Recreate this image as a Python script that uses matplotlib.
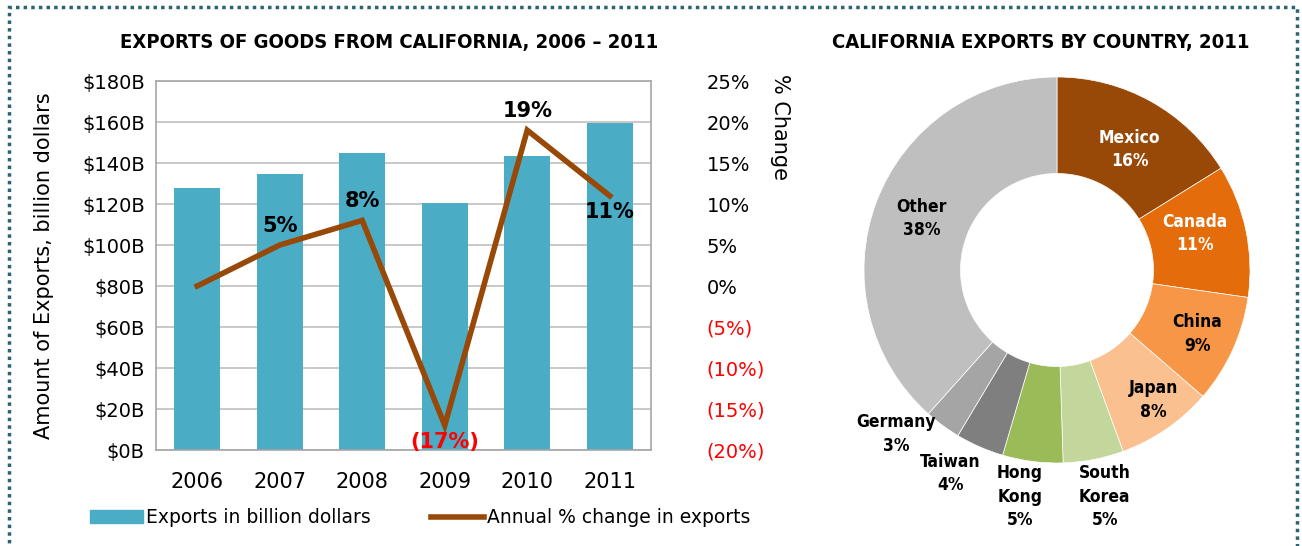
import numpy as np
import matplotlib
matplotlib.use('Agg')
from matplotlib import pyplot as plt
from matplotlib.patches import Rectangle, Patch
from matplotlib.lines import Line2D

# Data for the bar / line chart
years = ['2006', '2007', '2008', '2009', '2010', '2011']
exports_billion = [128, 134.5, 145, 120.5, 143.5, 159.5]
pct_change = [0, 5, 8, -17, 19, 11]
pct_labels = ['', '5%', '8%', '(17%)', '19%', '11%']

# Data for the donut chart
countries = ['Mexico', 'Canada', 'China', 'Japan', 'South\nKorea', 'Hong\nKong', 'Taiwan', 'Germany', 'Other']
shares = [16, 11, 9, 8, 5, 5, 4, 3, 38]

bar_color = '#4BACC6'
line_color = '#984807'
pie_colors = ['#984807', '#E46C0A', '#F79646', '#FAC090', '#C3D69B',
              '#9BBB59', '#7F7F7F', '#A5A5A5', '#BFBFBF']
label_colors = ['white', 'white', 'black', 'black', 'black', 'black', 'black', 'black', 'black']

plt.rcParams['font.family'] = ['DejaVu Sans']

fig = plt.figure(figsize=(13.02, 5.46), dpi=100)

# Dotted border around the whole graphic
fig.patches.append(Rectangle((0.007, -0.02), 0.989, 1.008, transform=fig.transFigure,
                             fill=False, edgecolor='#2A6373', linestyle=(0, (1, 1.2)),
                             linewidth=2.5))

# ---- Left: exports bar chart with % change line ----
ax = fig.add_axes([0.1198, 0.1758, 0.3802, 0.6758])
x = np.arange(len(years))
ax.bar(x, exports_billion, width=0.56, color=bar_color, zorder=2)
ax.set_xlim(-0.5, len(years) - 0.5)
ax.set_ylim(0, 180)
ax.set_yticks(np.arange(0, 181, 20))
ax.set_yticklabels([f'${v}B' for v in range(0, 181, 20)], fontsize=14)
ax.set_xticks(x)
ax.set_xticklabels(years, fontsize=15)
ax.tick_params(length=0, pad=8)
ax.tick_params(axis='x', pad=16)
ax.grid(axis='y', color='#BFBFBF', linewidth=1.2, zorder=0)
for s in ax.spines.values():
    s.set_color('#A6A6A6')
    s.set_linewidth(1.2)
ax.set_ylabel('Amount of Exports, billion dollars', fontsize=15, labelpad=20)

ax2 = ax.twinx()
ax2.plot(x, pct_change, color=line_color, linewidth=4, zorder=3,
         solid_joinstyle='miter')
ax2.set_ylim(-20, 25)
ticks = np.arange(-20, 26, 5)
ax2.set_yticks(ticks)
ax2.set_yticklabels([f'{t}%' if t >= 0 else f'({-t}%)' for t in ticks], fontsize=14)
for lbl, t in zip(ax2.get_yticklabels(), ticks):
    if t < 0:
        lbl.set_color('#FF0000')
ax2.tick_params(length=0, pad=40)
for s in ax2.spines.values():
    s.set_visible(False)
ax2.text(1.26, 1.02, '% Change', transform=ax2.transAxes, rotation=270,
         fontsize=15, ha='center', va='top')

offsets = [0, 14, 14, -12, 14, -12]
for xi, yi, lab, off in zip(x, pct_change, pct_labels, offsets):
    if not lab:
        continue
    ax2.annotate(lab, (xi, yi), xytext=(0, off), textcoords='offset points',
                 ha='center', va='center', fontsize=15, fontweight='bold',
                 color='#FF0000' if yi < 0 else 'black', zorder=4)

ax.set_title('EXPORTS OF GOODS FROM CALIFORNIA, 2006 – 2011', fontstretch='condensed',
             fontsize=14.5, fontweight='bold', pad=24, x=0.47)

handles = [Patch(color=bar_color), Line2D([0], [0], color=line_color, linewidth=4)]
fig.legend(handles, ['Exports in billion dollars', 'Annual % change in exports'],
           loc='center', bbox_to_anchor=(0.323, 0.052), ncol=2, frameon=False,
           fontsize=13.5, handlelength=2.8, handletextpad=0.2, columnspacing=3.2)

# ---- Right: donut chart ----
pax = fig.add_axes([(1057 - 193) / 1302, (546 - 270 - 193) / 546, 386 / 1302, 386 / 546])
wedges, _ = pax.pie(shares, colors=pie_colors, startangle=90, counterclock=False,
                    radius=1.0, wedgeprops=dict(width=0.5, edgecolor='white', linewidth=0.5))
pax.set_xlim(-1, 1)
pax.set_ylim(-1, 1)
pax.set_aspect('equal')
pax.axis('off')

label_r = [0.73, 0.74, 0.80, 0.84, 1.20, 1.19, 1.19, 1.19, 0.75]
angle_shift = [2, -3, 0, -2, -1, 2, 4, 8, 0]
for w, name, val, r, sh, c in zip(wedges, countries, shares, label_r, angle_shift, label_colors):
    mid = np.deg2rad((w.theta1 + w.theta2) / 2 - sh)
    pax.text(r * np.cos(mid), r * np.sin(mid), f'{name}\n{val}%', ha='center', va='center',
             fontstretch='condensed', fontweight='bold', fontsize=12.5, color=c,
             linespacing=1.4)

pax.set_title('CALIFORNIA EXPORTS BY COUNTRY, 2011', fontstretch='condensed', fontsize=14.5,
              fontweight='bold', pad=21, x=0.459)

fig.savefig('out.png', dpi=100)
